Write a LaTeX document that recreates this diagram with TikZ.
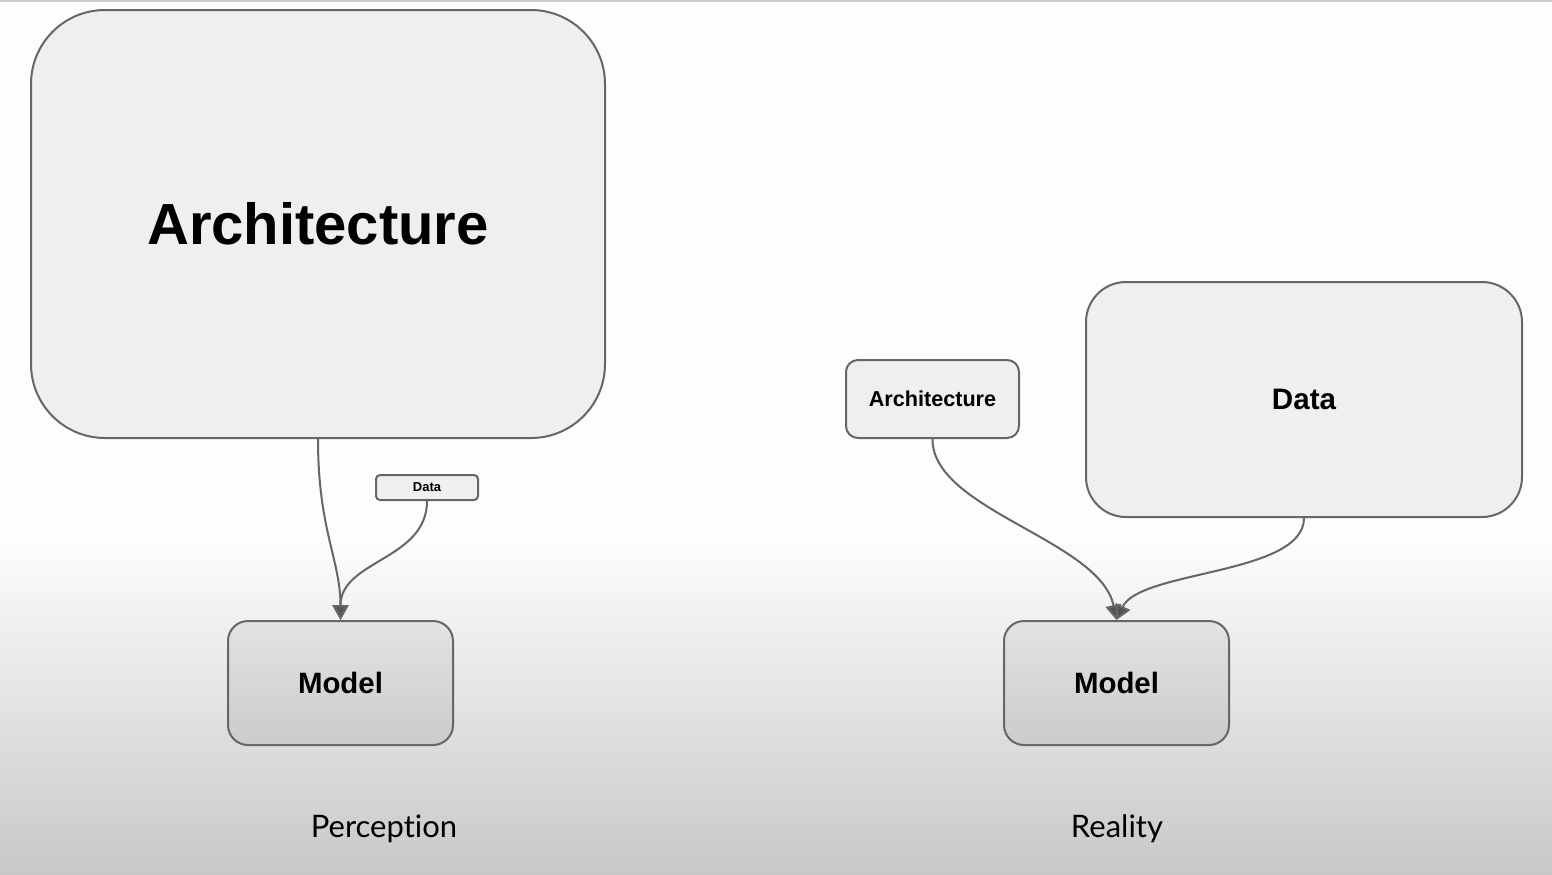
\documentclass[tikz,border=0pt]{standalone}
\usepackage{fontspec}
\setmainfont{Liberation Sans}
\newfontfamily\capfont[Ligatures={NoCommon,NoContextual}]{Lato}
\usetikzlibrary{arrows.meta}
\definecolor{edgegry}{HTML}{666666}
\definecolor{boxgry}{HTML}{EFEFEF}
\definecolor{bgtop}{HTML}{FDFDFD}
\definecolor{bgbot}{HTML}{C8C8C8}
\definecolor{tipgry}{HTML}{555555}

\tikzset{
	block/.style={draw=edgegry, line width=1pt, fill=boxgry, inner sep=0pt, align=center, font=\bfseries},
	modelbox/.style={block, top color=boxgry!95!black, bottom color=boxgry!85!black, rounded corners=10pt,
		minimum width=112.5pt, minimum height=62pt, font=\bfseries\fontsize{14.7}{16}\selectfont},
	flow/.style={draw=edgegry, line width=1pt, -{Triangle[width=8pt, length=7.5pt, fill=tipgry]}}
}

\begin{document}
\begin{tikzpicture}[x=0.5pt, y=-0.5pt]

	% background with the grey fade at the bottom
	\useasboundingbox (0, 0) rectangle (1552, 874);
	\fill[bgtop] (0, 0) rectangle (1552, 541);
	\shade[top color=bgtop, bottom color=bgbot] (0, 540) rectangle (1552, 874);
	\draw[gray!40, line width=1pt] (0, 0.5) -- (1552, 0.5);

	% perception
	\node[block, rounded corners=37pt, minimum width=287pt, minimum height=214pt, font=\bfseries\fontsize{29}{32}\selectfont] (archL) at (318, 224) {Architecture};
	\node[block, rounded corners=2pt, minimum width=51pt, minimum height=12.5pt, font=\bfseries\fontsize{6.5}{7}\selectfont] (dataL) at (427, 487.5) {Data};
	\node[modelbox] (modelL) at (340.5, 683) {Model};
	\node[font=\capfont\fontsize{15.5}{17}\selectfont] (percep) at (384, 829) {Percept\kern0pt ion};

	\draw[flow] (archL.south) .. controls (318, 530) and (340.5, 560) .. (modelL.north);
	\draw[flow] (dataL.south) .. controls (427, 560) and (340.5, 560) .. (modelL.north);

	% reality
	\node[block, rounded corners=6pt, minimum width=86.5pt, minimum height=39pt, font=\bfseries\fontsize{10.8}{12}\selectfont] (archR) at (932.5, 399) {Architecture};
	\node[block, rounded corners=20pt, minimum width=218pt, minimum height=117.5pt, font=\bfseries\fontsize{14.8}{16}\selectfont] (dataR) at (1304, 399.5) {Data};
	\node[modelbox] (modelR) at (1116.5, 683) {Model};
	\node[font=\capfont\fontsize{15.5}{17}\selectfont] (real) at (1117, 829) {Reality};

	\draw[flow] (archR.south) .. controls (932, 510) and (1100, 540) .. (modelR.north);
	\draw[flow] (dataR.south) .. controls (1304, 575) and (1140, 570) .. (modelR.north);

\end{tikzpicture}
\end{document}
